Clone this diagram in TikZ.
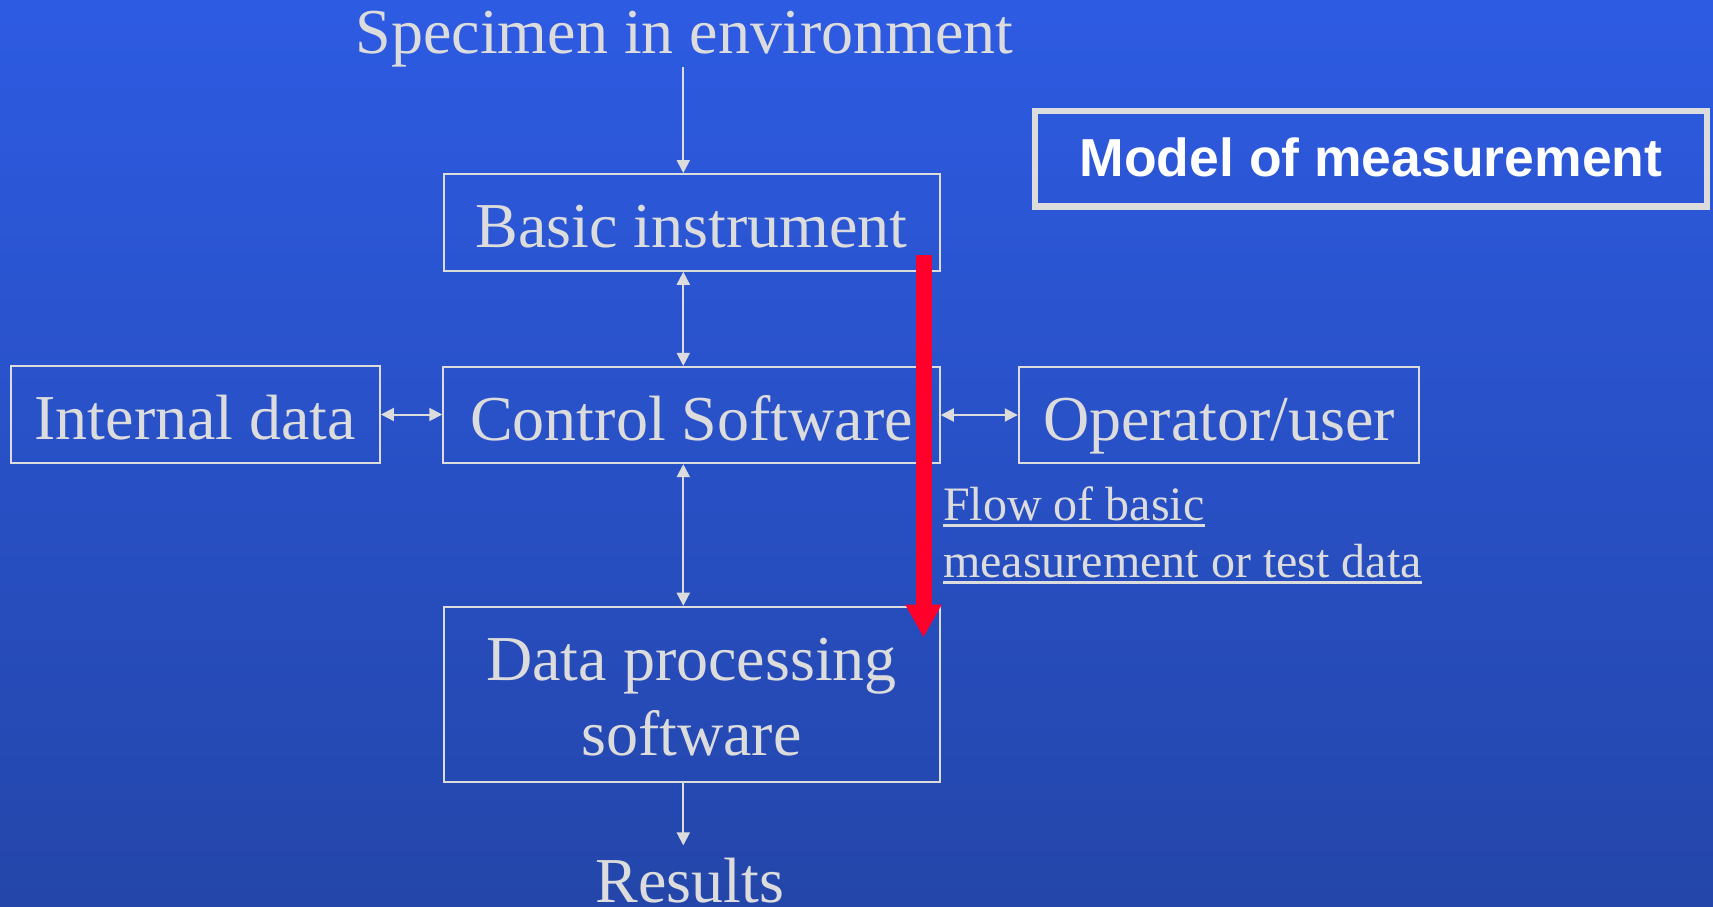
\documentclass[tikz,border=0pt]{standalone}
\usepackage{fontspec}
\setmainfont{Liberation Serif}
\newfontfamily\headfont{Liberation Sans}
\usetikzlibrary{arrows.meta}

\definecolor{bgtop}{RGB}{45,91,226}
\definecolor{bgbot}{RGB}{36,70,170}
\definecolor{ink}{RGB}{220,220,220}
\definecolor{flowred}{RGB}{255,0,42}

% underlined caption line
\newcommand\flowul[1]{\vtop{\hbox{#1}\kern4pt\hrule height 2.5pt}}

\tikzset{
  gtip/.tip={Triangle[length=13pt,width=13pt]},
  big/.style={font=\fontsize{64}{76}\selectfont, text=ink},
  box/.style={draw=ink, line width=2pt, inner sep=0pt,
              text height=50pt, text depth=0pt, big},
  link/.style={draw=ink, line width=2pt, -gtip},
  dlink/.style={draw=ink, line width=2pt, gtip-gtip},
  flowtext/.style={font=\fontsize{48}{57}\selectfont, text=ink,
                   inner sep=0pt, anchor=base west},
}

\begin{document}
\begin{tikzpicture}[x=1pt,y=-1pt]
  \useasboundingbox (0,0) rectangle (1713,907);
  \shade[top color=bgtop, bottom color=bgbot] (0,0) rectangle (1713,907);

  % vertical axis of the main chain
  \coordinate (spine) at (683.3,0);

  % title
  \node[draw=ink, line width=6.7pt, minimum width=672pt, minimum height=95.5pt,
        inner sep=0pt, text height=34.5pt, text depth=0pt, text=white,
        font=\headfont\bfseries\fontsize{53.5}{60}\selectfont]
        (title) at (1371,158.75) {Model of measurement};

  % chain of stages
  \node[big, anchor=base, inner sep=0pt] (spec) at (684.5,53) {Specimen in environment};
  \node[box, minimum width=496.5pt, minimum height=96.7pt] (basic) at (691.75,222.4) {Basic instrument};
  \node[box, minimum width=496.5pt, minimum height=96.3pt] (control) at (691.5,415) {Control Software};
  \node[box, minimum width=369.3pt, minimum height=97pt] (internal) at (195.3,414.5) {Internal data};
  \node[box, minimum width=400.4pt, minimum height=96.3pt] (operator) at (1219,415) {Operator/user};
  \node[draw=ink, line width=2pt, minimum width=496pt, minimum height=175pt, inner sep=0pt]
        (dproc) at (691.5,694.2) {};
  \node[big, anchor=base, inner sep=0pt] (dproca) at (691.5,680) {Data processing};
  \node[big, anchor=base, inner sep=0pt] (dprocb) at (691.5,755.7) {software};
  \node[big, anchor=base, inner xsep=0pt, inner ysep=12pt] (results) at (690,902) {Results};

  % connectors
  \draw[link]  (spec.south -| spine) -- (basic.north -| spine);
  \draw[dlink] (basic.south -| spine) -- (control.north -| spine);
  \draw[dlink] (control.south -| spine) -- (dproc.north -| spine);
  \draw[link]  (dproc.south -| spine) -- (results.north -| spine);
  \draw[dlink] (internal.east) -- (internal.east -| control.west);
  \draw[dlink] (control.east) -- (control.east -| operator.west);

  % flow of measurement data
  \coordinate (flowtop) at (923.5,255.3);
  \coordinate (flowend) at (923.5,637.5);
  \draw[flowred, line width=16pt, -{Triangle[length=33pt,width=34pt]}] (flowtop) -- (flowend);
  \node[flowtext] (flowa) at (943,520) {\flowul{Flow of basic}};
  \node[flowtext] (flowb) at (943,577) {\flowul{measurement or test data}};
\end{tikzpicture}
\end{document}
